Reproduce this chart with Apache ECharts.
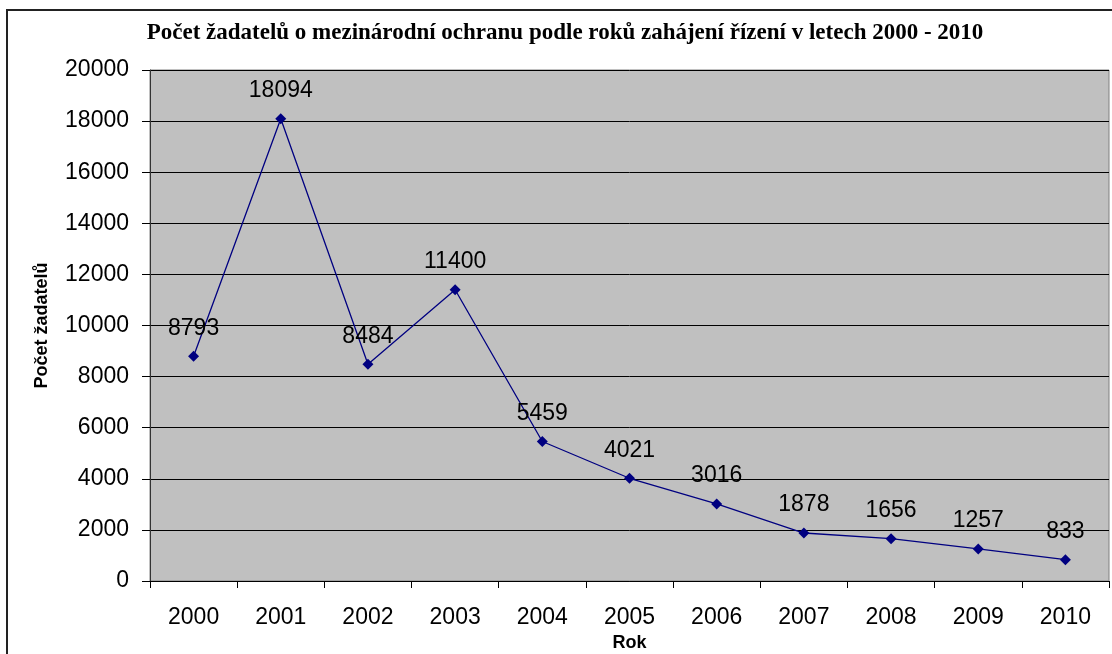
<!DOCTYPE html>
<html>
<head>
<meta charset="utf-8">
<script src="https://cdn.jsdelivr.net/npm/echarts@6/dist/echarts.min.js"></script>
<style>html,body{margin:0;padding:0;background:#fff}#c{width:1112px;height:654px}</style>
</head>
<body>
<div id="c"></div>
<script>
const titleText = 'Počet žadatelů o mezinárodní ochranu podle roků zahájení řízení v letech 2000 - 2010';
const years = ['2000','2001','2002','2003','2004','2005','2006','2007','2008','2009','2010'];
const applicants = [8793, 18094, 8484, 11400, 5459, 4021, 3016, 1878, 1656, 1257, 833];
const yAxisName = 'Počet žadatelů';
const xAxisName = 'Rok';

const chart = echarts.init(document.getElementById('c'), null, {renderer: 'canvas'});
chart.setOption({
  animation: false,
  backgroundColor: '#ffffff',
  title: {
    text: titleText,
    left: 560,
    top: 17,
    textAlign: 'center',
    textStyle: {fontFamily: 'Liberation Serif', fontWeight: 'bold', fontSize: 23, color: '#000'}
  },
  graphic: [{
    type: 'rect', z: -1, silent: true,
    shape: {x: 7, y: 10, width: 1120, height: 700},
    style: {fill: 'none', stroke: '#222', lineWidth: 2}
  }],
  grid: {
    left: 150, top: 70, right: 3, bottom: 73,
    outerBoundsMode: 'none',
    containLabel: false,
    show: true, backgroundColor: '#c0c0c0', borderColor: '#808080', borderWidth: 1
  },
  xAxis: {
    type: 'category',
    data: years,
    boundaryGap: true,
    name: xAxisName,
    nameLocation: 'middle',
    nameGap: 53,
    nameTextStyle: {fontFamily: 'Liberation Sans', fontWeight: 'bold', fontSize: 18, color: '#000'},
    axisLine: {lineStyle: {color: '#000', width: 1}},
    axisTick: {show: true, length: 7, lineStyle: {color: '#000'}},
    axisLabel: {fontFamily: 'Liberation Sans', fontSize: 23, color: '#000', margin: 25}
  },
  yAxis: {
    type: 'value',
    min: 0, max: 20000, interval: 2000,
    name: yAxisName,
    nameLocation: 'middle',
    nameRotate: 90,
    nameGap: 99,
    nameTextStyle: {fontFamily: 'Liberation Sans', fontWeight: 'bold', fontSize: 18, color: '#000'},
    axisLine: {show: true, lineStyle: {color: '#333', width: 1}},
    axisTick: {show: true, length: 8, lineStyle: {color: '#000'}},
    axisLabel: {fontFamily: 'Liberation Sans', fontSize: 23, color: '#000', margin: 21,
      formatter: function (v) { return String(v); }},
    splitLine: {show: true, lineStyle: {color: '#000', width: 1}}
  },
  series: [{
    type: 'line',
    data: applicants,
    symbol: 'diamond',
    symbolSize: 11,
    lineStyle: {color: '#000080', width: 1.3},
    itemStyle: {color: '#000080'},
    label: {
      show: true, position: 'top', distance: 11,
      fontFamily: 'Liberation Sans', fontSize: 23, color: '#000'
    }
  }]
});
</script>
</body>
</html>
